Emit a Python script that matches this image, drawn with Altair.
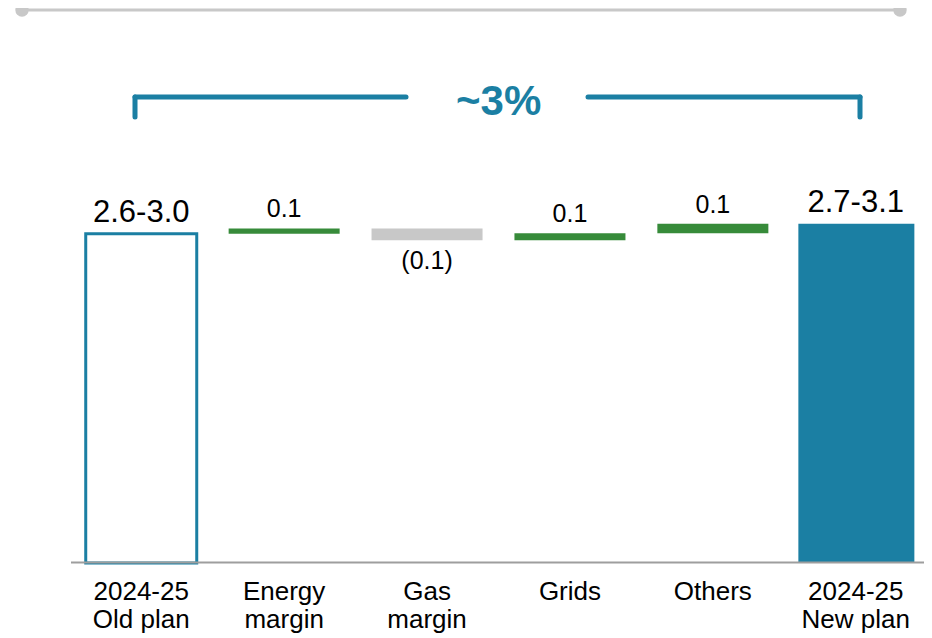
import altair as alt
import pandas as pd

# ---- data ----
categories = ["2024-25|Old plan", "Energy|margin", "Gas|margin", "Grids", "Others", "2024-25|New plan"]
old_plan = 2.8
step_changes = [0.045, -0.10, 0.06, 0.08]   # Energy margin, Gas margin, Grids, Others
new_plan = 2.885
value_labels = ["2.6-3.0", "0.1", "(0.1)", "0.1", "0.1", "2.7-3.1"]
kinds = ["old", "up", "down", "up", "up", "new"]

TEAL = "#1B7FA3"
GREEN = "#378B3A"
GRAY = "#C8C8C8"
FONT = "Liberation Sans"

# waterfall start/end levels
starts, ends = [0.0], [old_plan]
level = old_plan
for s in step_changes:
    starts.append(level)
    level += s
    ends.append(level)
starts.append(0.0)
ends.append(new_plan)

df = pd.DataFrame({
    "cat": categories,
    "start": starts,
    "end": ends,
    "label": value_labels,
    "kind": kinds,
})
df["top"] = df[["start", "end"]].max(axis=1)
df["bottom"] = df[["start", "end"]].min(axis=1)

y_scale = alt.Scale(domain=[0, 4.72], nice=False, zero=True)

x_enc = alt.X(
    "cat:N",
    sort=categories,
    scale=alt.Scale(paddingInner=0.2232, paddingOuter=0.0611),
    axis=alt.Axis(
        title=None,
        labelExpr="split(datum.label, '|')",
        labelAngle=0,
        labelFontSize=26,
        labelFont=FONT,
        labelColor="black",
        labelLineHeight=28,
        labelPadding=15.5,
        labelBaseline="top",
        labelAlign="center",
        ticks=False,
        tickSize=0,
        domain=False,
    ),
)

base = alt.Chart(df)

filled = base.transform_filter("datum.kind == 'up' || datum.kind == 'down'").mark_bar().encode(
    x=x_enc,
    y=alt.Y("start:Q", scale=y_scale, axis=None),
    y2="end:Q",
    color=alt.Color(
        "kind:N",
        scale=alt.Scale(domain=["up", "down"], range=[GREEN, GRAY]),
        legend=None,
    ),
)

new_bar = base.transform_filter("datum.kind == 'new'").mark_bar(
    color=TEAL, width=alt.RelativeBandSize(1.045), xOffset=0.6
).encode(
    x=x_enc,
    y=alt.Y("start:Q", scale=y_scale, axis=None),
    y2="end:Q",
)

old_bar = base.transform_filter("datum.kind == 'old'").mark_bar(
    fill="white", stroke=TEAL, strokeWidth=3
).encode(
    x=x_enc,
    y=alt.Y("start:Q", scale=y_scale, axis=None),
    y2="end:Q",
)

big_labels = base.transform_filter("datum.kind == 'old' || datum.kind == 'new'").mark_text(
    fontSize=31, font=FONT, color="black", baseline="alphabetic", dy=-12
).encode(x=x_enc, y=alt.Y("top:Q", scale=y_scale, axis=None), text="label:N")

up_labels = base.transform_filter("datum.kind == 'up'").mark_text(
    fontSize=25, font=FONT, color="black", baseline="alphabetic", dy=-11
).encode(x=x_enc, y=alt.Y("top:Q", scale=y_scale, axis=None), text="label:N")

down_labels = base.transform_filter("datum.kind == 'down'").mark_text(
    fontSize=25, font=FONT, color="black", baseline="alphabetic", dy=29
).encode(x=x_enc, y=alt.Y("bottom:Q", scale=y_scale, axis=None), text="label:N")

# ---- decorations ----
dummy = alt.Chart(pd.DataFrame({"a": [0]}))

baseline_rule = dummy.mark_rule(color="#9E9E9E", strokeWidth=2).encode(
    x=alt.value(-6), x2=alt.value(847), y=alt.value(554.5)
)

top_line = dummy.mark_rule(color=GRAY, strokeWidth=3).encode(
    x=alt.value(-55), x2=alt.value(823), y=alt.value(2)
)
dot_left = dummy.mark_circle(size=180, color=GRAY, opacity=1).encode(
    x=alt.value(-55), y=alt.value(2)
)
dot_right = dummy.mark_circle(size=180, color=GRAY, opacity=1).encode(
    x=alt.value(823), y=alt.value(2)
)

br_kw = dict(color=TEAL, strokeWidth=5, strokeCap="round")
br_left_v = dummy.mark_rule(**br_kw).encode(x=alt.value(58), y=alt.value(89), y2=alt.value(109))
br_left_h = dummy.mark_rule(**br_kw).encode(x=alt.value(58), x2=alt.value(329), y=alt.value(89))
br_right_h = dummy.mark_rule(**br_kw).encode(x=alt.value(511), x2=alt.value(783), y=alt.value(89))
br_right_v = dummy.mark_rule(**br_kw).encode(x=alt.value(783), y=alt.value(89), y2=alt.value(109))

pct_text = dummy.mark_text(
    text="~3%", fontSize=42, fontWeight="bold", font=FONT, color=TEAL,
    align="center", baseline="alphabetic"
).encode(x=alt.value(421.7), y=alt.value(107))

chart = alt.layer(
    old_bar, filled, new_bar, baseline_rule, big_labels, up_labels, down_labels,
    top_line, dot_left, dot_right,
    br_left_v, br_left_h, br_right_h, br_right_v, pct_text,
).properties(
    width=843,
    height=555,
    padding={"left": 69, "top": 0, "right": 4, "bottom": 70},
    autosize=alt.AutoSizeParams(type="none"),
    background="white",
).configure_view(stroke=None)

chart.save("out.html", embed_options={"renderer": "svg", "actions": False})
